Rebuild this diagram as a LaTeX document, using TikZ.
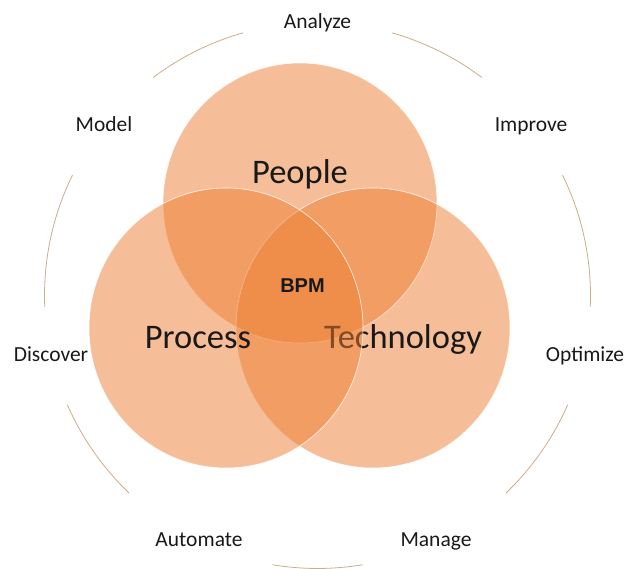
\documentclass[tikz,border=0pt]{standalone}
\usepackage{fontspec}
\usetikzlibrary{calc}
\setmainfont{Carlito}
\newfontfamily\bpmfont{Liberation Sans}
\definecolor{bpmorange}{RGB}{237,125,49}
\definecolor{arccol}{RGB}{205,172,140}
\definecolor{txt}{RGB}{25,25,25}
\begin{document}
\begin{tikzpicture}[x=1bp,y=1bp,
  venn/.style={fill=bpmorange,fill opacity=0.5,draw=white,draw opacity=0.55,line width=0.6bp},
  ring/.style={draw=arccol,line width=0.8bp},
  small/.style={anchor=base,text=txt,font=\fontsize{21.5bp}{24bp}\selectfont,inner sep=0pt},
  big/.style={anchor=base,text=txt,font=\fontsize{34.5bp}{38bp}\selectfont,inner sep=0pt},
  core/.style={anchor=base,text=txt,font=\bpmfont\bfseries\fontsize{20bp}{22bp}\selectfont,inner sep=0pt}]
\useasboundingbox (0,0) rectangle (624,569);
% centres
\coordinate (ringc) at (317.5,273.5);
\coordinate (cpeople) at (300,366);
\coordinate (cprocess) at (226,241);
\coordinate (ctech) at (373,241);
% Venn circles
\fill[venn] (cpeople) ellipse [x radius=137, y radius=140];
\fill[venn] (ctech) ellipse [x radius=137, y radius=140];
\draw[venn,fill=none] (cpeople) ellipse [x radius=137, y radius=140];
\draw[venn,fill=none] (ctech) ellipse [x radius=137, y radius=140];
\node[big] (technology) at (403,220) {Technology};
\fill[venn] (cprocess) ellipse [x radius=137, y radius=140];
\draw[venn,fill=none] (cprocess) ellipse [x radius=137, y radius=140];
\node[big] (people) at (300,385) {People};
\node[big] (process) at (198,220) {Process};
\node[core] (bpm) at (302.5,276.5) {BPM};
% outer ring arcs
\foreach \a/\b in {105.8/127, 153.8/182.4, 203.6/226.3, 260.5/279.5, 313.7/336.4, 357.6/386.2, 53/74.2}
  \draw[ring] ($(ringc)+(\a:273)$) arc[start angle=\a, end angle=\b, radius=273];
% outer labels
\node[small] (analyze) at (317.5,540) {Analyze};
\node[small] (model) at (104,437) {Model};
\node[small] (improve) at (531,437) {Improve};
\node[small] (discover) at (51,207) {Discover};
\node[small] (optimize) at (585,207) {Optimize};
\node[small] (automate) at (199,22) {Automate};
\node[small] (manage) at (436,22) {Manage};
\end{tikzpicture}
\end{document}
